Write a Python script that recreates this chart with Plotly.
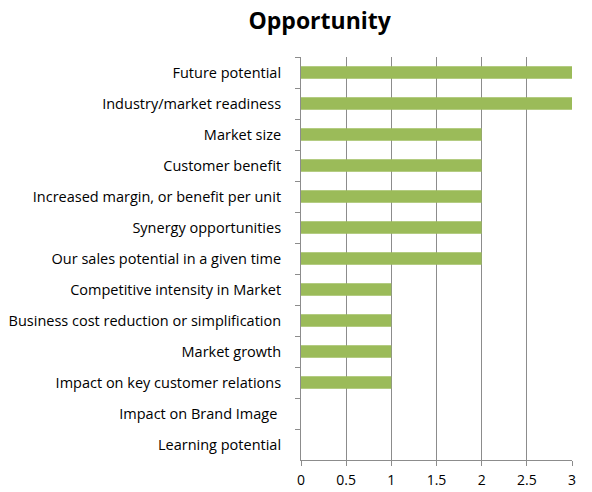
import plotly.graph_objects as go

categories = [
    "Future potential",
    "Industry/market readiness",
    "Market size",
    "Customer benefit",
    "Increased margin, or benefit per unit",
    "Synergy opportunities",
    "Our sales potential in a given time",
    "Competitive intensity in Market",
    "Business cost reduction or simplification",
    "Market growth",
    "Impact on key customer relations",
    "Impact on Brand Image ",
    "Learning potential",
]
values = [3, 3, 2, 2, 2, 2, 2, 1, 1, 1, 1, 0, 0]
x_ticks = [0, 0.5, 1, 1.5, 2, 2.5, 3]
x_tick_labels = ["0", "0.5", "1", "1.5", "2", "2.5", "3"]

FONT = "Open Sans, Lato, sans-serif"

fig = go.Figure(
    go.Bar(
        x=values,
        y=categories,
        orientation="h",
        marker=dict(color="#9BBB59", line=dict(width=0)),
        width=0.4,
    )
)

fig.update_layout(
    width=592,
    height=492,
    margin=dict(l=301, r=20, t=57, b=32, autoexpand=False),
    paper_bgcolor="white",
    plot_bgcolor="white",
    font=dict(family=FONT, color="#000000", size=14),
    title=dict(
        text="<b>Opportunity</b>",
        x=0.54,
        xanchor="center",
        y=0.958,
        yanchor="middle",
        font=dict(size=23, family=FONT, color="#000000"),
    ),
    showlegend=False,
)

fig.update_xaxes(
    range=[0, 3],
    tickvals=x_ticks,
    ticktext=x_tick_labels,
    showgrid=True,
    gridcolor="#8c8c8c",
    gridwidth=1,
    showline=True,
    linecolor="#8c8c8c",
    linewidth=1,
    ticks="outside",
    ticklen=5,
    tickcolor="#8c8c8c",
    ticklabelstandoff=2,
    zeroline=False,
    automargin=False,
    tickfont=dict(size=14),
    fixedrange=True,
)

fig.update_yaxes(
    type="category",
    categoryorder="array",
    categoryarray=categories,
    autorange="reversed",
    showgrid=False,
    showline=True,
    linecolor="#8c8c8c",
    linewidth=1,
    ticks="outside",
    ticklen=5,
    tickcolor="#8c8c8c",
    tickson="boundaries",
    ticklabelstandoff=16,
    automargin=False,
    tickfont=dict(size=14.5),
    zeroline=False,
    fixedrange=True,
)

fig.write_html("out.html")
